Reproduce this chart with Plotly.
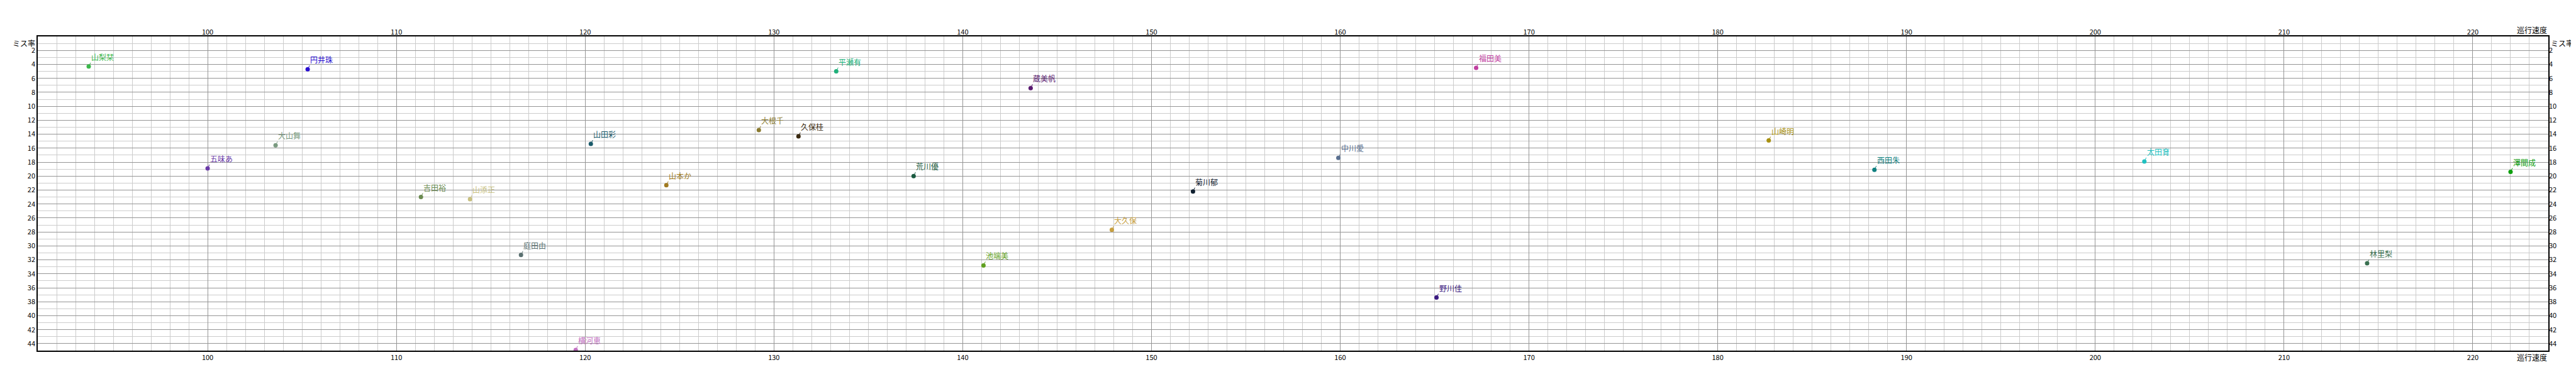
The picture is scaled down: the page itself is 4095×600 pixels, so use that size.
import plotly.graph_objects as go

# Data
names = ["山梨栞", "円井珠", "大山舞", "五味あ", "吉田裕", "平瀬有", "大根千", "久保桂",
         "山田彩", "山本か", "山添正", "庭田由", "横河恵", "蔵美帆", "荒川優", "菊川郁",
         "大久保", "池端美", "福田美", "中川愛", "野川佳", "山崎明", "西田朱", "太田育",
         "澤間成", "林里梨"]
speed = [93.7, 105.3, 103.6, 100.0, 111.3, 133.3, 129.2, 131.3,
         120.3, 124.3, 113.9, 116.6, 119.5, 143.6, 137.4, 152.2,
         147.9, 141.1, 167.2, 159.9, 165.1, 182.7, 188.3, 202.6,
         222.0, 214.4]
miss = [4.3, 4.7, 15.6, 18.9, 23.0, 5.0, 13.4, 14.3,
        15.4, 21.3, 23.3, 31.3, 44.9, 7.4, 20.0, 22.2,
        27.7, 32.8, 4.5, 17.4, 37.4, 14.9, 19.1, 17.9,
        19.4, 32.5]
colors = ["#3cb84c", "#2a10d0", "#7a9a80", "#6a3aa8", "#6a8a50", "#20b07a", "#8a7a30", "#3a2a10",
          "#1a5a6a", "#a07a20", "#c8c080", "#5a7070", "#c070c0", "#5a1a70", "#1a5a40", "#102030",
          "#c8a040", "#60a020", "#c040a0", "#5a7090", "#3a1a80", "#a89010", "#108080", "#20c0c0",
          "#10a010", "#3a7050"]

x_ticks = list(range(100, 221, 10))
y_ticks = list(range(2, 45, 2))
x_title = "巡行速度"
y_title = "ミス率"

FONT = "Noto Sans CJK JP"

fig = go.Figure()
fig.add_trace(go.Scatter(
    x=speed, y=miss, mode="markers",
    marker=dict(color=colors, size=7),
    hoverinfo="text", text=names, showlegend=False))
fig.add_trace(go.Scatter(x=[], y=[], xaxis="x2", yaxis="y2", showlegend=False))

for n, xv, yv, c in zip(names, speed, miss, colors):
    fig.add_annotation(x=xv, y=yv, text=n, showarrow=True, arrowhead=0, arrowwidth=1,
                       arrowcolor=c, ax=3, ay=-6, xanchor="left", yanchor="bottom",
                       standoff=0, borderpad=0,
                       font=dict(family=FONT, size=12, color=c))

tickfont = dict(family=FONT, size=11, color="#000")

fig.update_layout(
    width=4095, height=600,
    margin=dict(l=52, r=52, t=50, b=50),
    plot_bgcolor="white", paper_bgcolor="white",
    xaxis=dict(range=[91, 224], tickvals=x_ticks, showgrid=True,
               gridcolor="#959595", gridwidth=1, zeroline=False, ticks="", tickfont=tickfont,
               minor=dict(dtick=1, tick0=0, showgrid=True, gridcolor="#cccccc", gridwidth=1),
               mirror=True, showline=True, linecolor="#000", linewidth=1.5),
    yaxis=dict(range=[45, 0], tickvals=y_ticks, showgrid=True,
               gridcolor="#959595", gridwidth=1, zeroline=False, ticks="", tickfont=tickfont,
               minor=dict(dtick=1, tick0=0, showgrid=True, gridcolor="#cccccc", gridwidth=1),
               mirror=True, showline=True, linecolor="#000", linewidth=1.5),
    xaxis2=dict(overlaying="x", side="top", matches="x", range=[91, 224], tickvals=x_ticks,
                showgrid=False, zeroline=False, showline=False, ticks="", tickfont=tickfont),
    yaxis2=dict(overlaying="y", side="right", matches="y", range=[45, 0], tickvals=y_ticks,
                showgrid=False, zeroline=False, showline=False, ticks="", tickfont=tickfont),
)

# Axis titles placed like the reference
for yy, yanc in [(1.0, "bottom"), (0.0, "top")]:
    fig.add_annotation(xref="paper", yref="paper", x=1.0, y=yy, text=x_title, showarrow=False,
                       xanchor="right", yanchor=yanc, font=dict(family=FONT, size=12, color="#000"))
fig.add_annotation(xref="paper", yref="paper", x=0.0, y=1.0, text=y_title, showarrow=False,
                   xanchor="right", yanchor="top", xshift=-2,
                   font=dict(family=FONT, size=12, color="#000"))
fig.add_annotation(xref="paper", yref="paper", x=1.0, y=1.0, text=y_title, showarrow=False,
                   xanchor="left", yanchor="top", xshift=2,
                   font=dict(family=FONT, size=12, color="#000"))

fig.write_html("out.html")
